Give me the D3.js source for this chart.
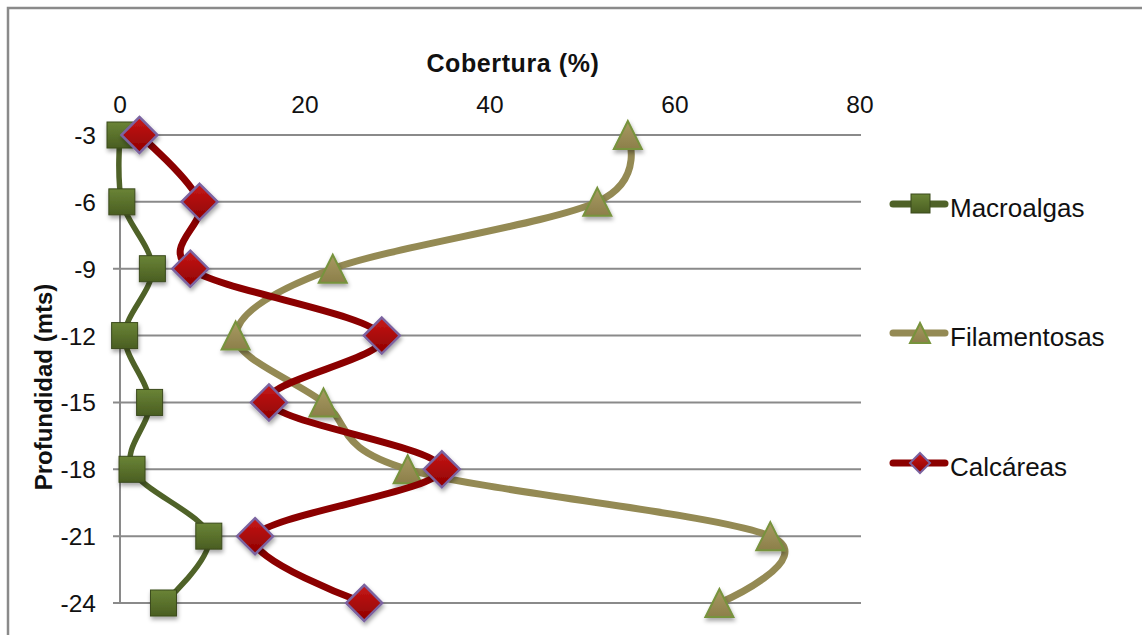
<!DOCTYPE html>
<html>
<head>
<meta charset="utf-8">
<script src="https://cdn.jsdelivr.net/npm/d3@7"></script>
<style>
  html, body { margin: 0; padding: 0; background: #fff; }
  svg { display: block; font-family: "Liberation Sans", Arial, sans-serif; }
</style>
</head>
<body>
<svg id="chart" width="1142" height="635"></svg>
<script>
// ---- data ----
const depths = [-3, -6, -9, -12, -15, -18, -21, -24];
const macroalgas = [0, 0.2, 3.5, 0.5, 3.2, 1.3, 9.6, 4.7];
const filamentosas = [54.9, 51.6, 23.0, 12.5, 22.0, 31.1, 70.3, 64.8];
const calcareas = [2.1, 8.6, 7.6, 28.3, 16.1, 34.8, 14.6, 26.4];
const xTicks = [0, 20, 40, 60, 80];
const seriesNames = ["Macroalgas", "Filamentosas", "Calcáreas"];
const xTitle = "Cobertura (%)";
const yTitle = "Profundidad (mts)";

const svg = d3.select("#chart");

// outer border (chart frame)
svg.append("rect").attr("x", 8).attr("y", 8).attr("width", 1150).attr("height", 650)
  .attr("fill", "none").attr("stroke", "#8a8a8a").attr("stroke-width", 2.5);

const x = d3.scaleLinear().domain([0, 80]).range([120, 860]);
const y = d3.scaleLinear().domain([-3, -24]).range([135, 603]);

// defs: gradients + shadow
const defs = svg.append("defs");
const shadow = defs.append("filter").attr("id", "shadow").attr("x", "-50%").attr("y", "-50%").attr("width", "200%").attr("height", "200%");
shadow.append("feDropShadow").attr("dx", 1).attr("dy", 3).attr("stdDeviation", 2).attr("flood-color", "#000").attr("flood-opacity", 0.35);

function grad(id, c1, c2) {
  const g = defs.append("linearGradient").attr("id", id).attr("x1", 0).attr("y1", 0).attr("x2", 0).attr("y2", 1);
  g.append("stop").attr("offset", "0%").attr("stop-color", c1);
  g.append("stop").attr("offset", "100%").attr("stop-color", c2);
}
grad("gSq", "#6a8436", "#4a5e22");
grad("gTri", "#a89a62", "#8c7f4a");
grad("gDia", "#c81818", "#8e0000");

// gridlines
svg.append("g").selectAll("line").data(depths).join("line")
  .attr("x1", 113).attr("x2", x(80) + 1)
  .attr("y1", d => y(d)).attr("y2", d => y(d))
  .attr("stroke", "#8a8a8a").attr("stroke-width", 2);

// y axis line
svg.append("line").attr("x1", x(0)).attr("x2", x(0)).attr("y1", y(-3)).attr("y2", y(-24))
  .attr("stroke", "#8a8a8a").attr("stroke-width", 2);

// x tick labels (top)
svg.append("g").selectAll("text").data(xTicks).join("text")
  .attr("x", d => x(d)).attr("y", 113)
  .attr("text-anchor", "middle").attr("font-size", 24.5).attr("fill", "#111")
  .text(d => d);

// y tick labels
svg.append("g").selectAll("text").data(depths).join("text")
  .attr("x", 96).attr("y", d => y(d) + 9)
  .attr("text-anchor", "end").attr("font-size", 24.5).attr("fill", "#111")
  .text(d => d);

// axis titles
svg.append("text").attr("x", 513).attr("y", 72).attr("text-anchor", "middle")
  .attr("font-size", 25).attr("font-weight", "bold").attr("letter-spacing", 0.6).attr("fill", "#111").text(xTitle);
svg.append("text").attr("transform", "translate(52,387) rotate(-90)").attr("text-anchor", "middle")
  .attr("font-size", 24).attr("font-weight", "bold").attr("fill", "#111").text(yTitle);

const series = [
  { name: seriesNames[0], values: macroalgas, line: "#4f6228", width: 5.5, marker: "square" },
  { name: seriesNames[1], values: filamentosas, line: "#948a54", width: 7, marker: "triangle" },
  { name: seriesNames[2], values: calcareas, line: "#8b0000", width: 7, marker: "diamond" }
];

const lineGen = d3.line().x(d => x(d.v)).y(d => y(d.d)).curve(d3.curveCardinal.tension(0));

function drawMarker(g, type, cx, cy) {
  if (type === "square") {
    const s = 26;
    g.append("rect").attr("x", cx - s / 2).attr("y", cy - s / 2).attr("width", s).attr("height", s)
      .attr("fill", "url(#gSq)").attr("stroke", "#3b4a1c").attr("stroke-width", 1)
      .attr("filter", "url(#shadow)");
  } else if (type === "triangle") {
    const w = 28;
    g.append("path")
      .attr("d", `M${cx},${cy - 14} L${cx + w / 2},${cy + 14} L${cx - w / 2},${cy + 14} Z`)
      .attr("fill", "url(#gTri)").attr("stroke", "#77933c").attr("stroke-width", 2)
      .attr("filter", "url(#shadow)");
  } else {
    const r = 18;
    g.append("path")
      .attr("d", `M${cx},${cy - r} L${cx + r},${cy} L${cx},${cy + r} L${cx - r},${cy} Z`)
      .attr("fill", "url(#gDia)").attr("stroke", "#7b63a0").attr("stroke-width", 2.5)
      .attr("filter", "url(#shadow)");
  }
}

series.forEach(s => {
  const pts = depths.map((d, i) => ({ d: d, v: s.values[i] }));
  const g = svg.append("g");
  g.append("path").datum(pts).attr("d", lineGen)
    .attr("fill", "none").attr("stroke", s.line).attr("stroke-width", s.width)
    .attr("stroke-linecap", "round").attr("stroke-linejoin", "round");
  pts.forEach(p => drawMarker(g, s.marker, x(p.v), y(p.d)));
});

// legend
const legendY = [204, 333, 463];
series.forEach((s, i) => {
  const g = svg.append("g");
  const ly = legendY[i];
  g.append("line").attr("x1", 893).attr("x2", 945).attr("y1", ly).attr("y2", ly)
    .attr("stroke", s.line).attr("stroke-width", 7).attr("stroke-linecap", "round");
  if (s.marker === "square") {
    g.append("rect").attr("x", 911).attr("y", ly - 10).attr("width", 19).attr("height", 19)
      .attr("fill", "url(#gSq)").attr("stroke", "#3b4a1c").attr("stroke-width", 1);
  } else if (s.marker === "triangle") {
    g.append("path").attr("d", `M920,${ly - 10} L930,${ly + 10} L910,${ly + 10} Z`)
      .attr("fill", "url(#gTri)").attr("stroke", "#77933c").attr("stroke-width", 2);
  } else {
    g.append("path").attr("d", `M920,${ly - 10} L930,${ly} L920,${ly + 10} L910,${ly} Z`)
      .attr("fill", "url(#gDia)").attr("stroke", "#7b63a0").attr("stroke-width", 2);
  }
  g.append("text").attr("x", 950).attr("y", ly + 13).attr("font-size", 26).attr("fill", "#111").text(s.name);
});
</script>
</body>
</html>
